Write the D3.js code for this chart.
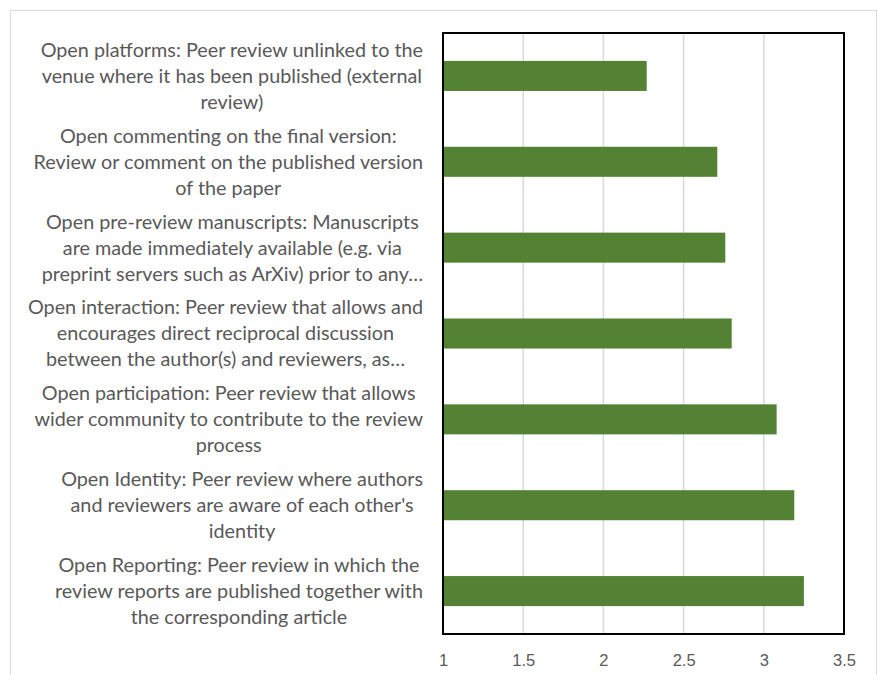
<!DOCTYPE html>
<html>
<head>
<meta charset="utf-8">
<script src="https://cdn.jsdelivr.net/npm/d3@7"></script>
<style>
  body { margin: 0; background: #fff; }
  svg { display: block; font-family: Lato, "Noto Sans", sans-serif; }
</style>
</head>
<body>
<svg id="chart"></svg>
<script>
var width = 878,
    height = 675;

// Categories (top to bottom), each as its wrapped lines
var categories = [
    ['Open platforms: Peer review unlinked to the', 'venue where it has been published (external', 'review)'],
    ['Open commenting on the final version:', 'Review or comment on the published version', 'of the paper'],
    ['Open pre-review manuscripts: Manuscripts', 'are made immediately available (e.g. via', 'preprint servers such as ArXiv) prior to any\u2026'],
    ['Open interaction: Peer review that allows and', 'encourages direct reciprocal discussion', 'between the author(s) and reviewers, as\u2026'],
    ['Open participation: Peer review that allows', 'wider community to contribute to the review', 'process'],
    ["Open Identity: Peer review where authors", "and reviewers are aware of each other's", 'identity'],
    ['Open Reporting: Peer review in which the', 'review reports are published together with', 'the corresponding article']
];
var values = [2.27, 2.71, 2.76, 2.80, 3.08, 3.19, 3.25];
var tickValues = [1, 1.5, 2, 2.5, 3, 3.5];

var plot = { left: 443, right: 844, top: 33, bottom: 634 };

var svg = d3.select('#chart')
    .attr('width', width)
    .attr('height', height);

// Outer chart border
svg.append('rect')
    .attr('x', 10.5).attr('y', 10.5)
    .attr('width', 866).attr('height', 680)
    .attr('fill', 'none')
    .attr('stroke', '#d9d9d9');

var x = d3.scaleLinear()
    .domain([1, 3.5])
    .range([plot.left, plot.right]);

var y = d3.scaleBand()
    .domain(d3.range(categories.length))
    .range([plot.top, plot.bottom])
    .paddingInner(0.65)
    .paddingOuter(0.325);

// Gridlines
svg.append('g')
    .selectAll('line')
    .data(tickValues.slice(1, -1))
    .enter().append('line')
    .attr('x1', function (d) { return x(d); })
    .attr('x2', function (d) { return x(d); })
    .attr('y1', plot.top)
    .attr('y2', plot.bottom)
    .attr('stroke', '#d9d9d9')
    .attr('stroke-width', 1.5);

// Bars
svg.append('g')
    .selectAll('rect')
    .data(values)
    .enter().append('rect')
    .attr('x', x(1))
    .attr('y', function (d, i) { return y(i); })
    .attr('width', function (d) { return x(d) - x(1); })
    .attr('height', y.bandwidth())
    .attr('fill', '#548235');

// Plot frame
svg.append('rect')
    .attr('x', plot.left)
    .attr('y', plot.top)
    .attr('width', plot.right - plot.left)
    .attr('height', plot.bottom - plot.top)
    .attr('fill', 'none')
    .attr('stroke', '#000')
    .attr('stroke-width', 2);

// X axis labels
var xAxis = d3.axisBottom(x)
    .tickValues(tickValues)
    .tickSize(0)
    .tickPadding(20)
    .tickFormat(d3.format('~g'));

var gx = svg.append('g')
    .attr('transform', 'translate(0,' + plot.bottom + ')')
    .call(xAxis);
gx.select('.domain').remove();
gx.selectAll('text')
    .attr('fill', '#595959')
    .style('font-size', '16.5px');

// Category labels: lines centred inside a block whose right edge sits by the axis
var lineH = 26;
var labels = svg.append('g')
    .selectAll('g')
    .data(categories)
    .enter().append('g');

labels.each(function (lines, i) {
    var g = d3.select(this);
    var cy = y(i) + y.bandwidth() / 2;
    var texts = g.selectAll('text')
        .data(lines)
        .enter().append('text')
        .attr('y', function (d, j) { return cy + (j - (lines.length - 1) / 2) * lineH; })
        .attr('dy', '0.35em')
        .attr('text-anchor', 'middle')
        .attr('fill', '#595959')
        .style('font-size', '19.8px')
        .text(function (d) { return d; });
    var maxW = d3.max(texts.nodes(), function (n) { return n.getComputedTextLength(); });
    texts.attr('x', 423 - maxW / 2);
});
</script>
</body>
</html>
